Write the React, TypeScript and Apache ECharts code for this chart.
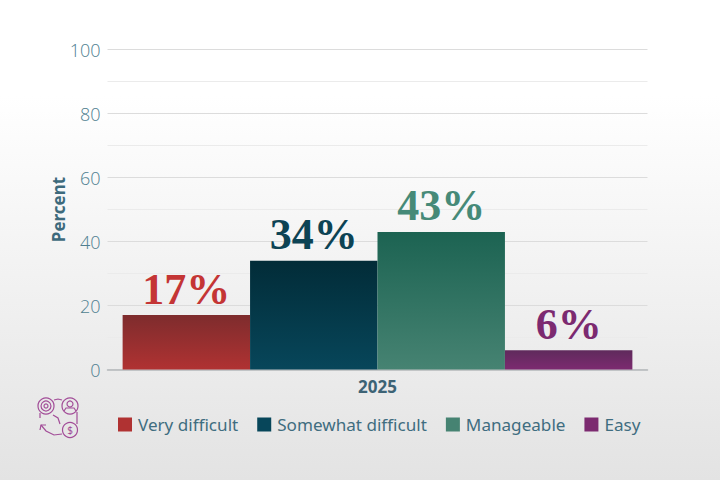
import React, { useEffect, useRef } from "react";
import * as echarts from "echarts";

const categories = ["2025"];
const seriesNames = ["Very difficult", "Somewhat difficult", "Manageable", "Easy"];
const seriesValues = [17, 34, 43, 6];
const topColors = ["#7e2c2d", "#022c38", "#1c6352", "#5f2a5c"];
const bottomColors = ["#b03232", "#07465a", "#468372", "#7c2a70"];
const labelColors = ["#c43535", "#0d4354", "#468a78", "#7c2a70"];
const legendColors = ["#b03232", "#07465a", "#468372", "#7c2a70"];

const ICON = "#a24d98";
const ring = (cx: number, cy: number, r: number) => ({
  type: "circle", shape: { cx, cy, r }, style: { fill: "none", stroke: ICON, lineWidth: 1.2 },
});
const line = (points: number[][]) => ({
  type: "polyline", shape: { points }, style: { fill: "none", stroke: ICON, lineWidth: 1.2 },
});

export default function App() {
  const ref = useRef<HTMLDivElement>(null);
  useEffect(() => {
    document.body.style.margin = "0";
    const chart = echarts.init(ref.current!, undefined, { renderer: "svg" });
    chart.setOption({
      animation: false,
      backgroundColor: {
        type: "linear", x: 0, y: 0, x2: 0, y2: 1,
        colorStops: [
          { offset: 0, color: "#ffffff" },
          { offset: 0.2, color: "#ffffff" },
          { offset: 1, color: "#e3e3e3" },
        ],
      },
      grid: { left: 107.5, width: 540, top: 49.5, height: 320 },
      legend: {
        left: 113, top: 411, itemWidth: 14, itemHeight: 14, itemGap: 19,
        textStyle: { fontFamily: "Noto Sans", fontSize: 17.1, color: "#3f6d80", padding: [0, 0, 0, 1] },
        data: seriesNames.map((name, i) => ({
          name, icon: "rect", itemStyle: { color: legendColors[i] },
        })),
      },
      xAxis: {
        type: "category", data: categories,
        axisLine: { lineStyle: { color: "#b4b8ba", width: 1.5 } },
        axisTick: { show: false },
        axisLabel: { fontFamily: "Noto Sans", fontWeight: "bold", fontSize: 17, color: "#3d6375", margin: 8 },
      },
      yAxis: {
        type: "value", min: 0, max: 100, interval: 20,
        name: "Percent", nameLocation: "middle", nameGap: 41, nameMoveOverlap: false,
        nameTextStyle: { fontFamily: "Noto Sans", fontWeight: "bold", fontSize: 17, color: "#3d6a7c" },
        axisLine: { show: false }, axisTick: { show: false },
        axisLabel: { fontFamily: "Open Sans", fontWeight: 300, fontSize: 18, color: "#4f7f90", margin: 7 },
        splitLine: { lineStyle: { color: "#dcdcdc", width: 1 } },
        minorTick: { show: false, splitNumber: 2 },
        minorSplitLine: { show: true, lineStyle: { color: "#ebebeb", width: 1 } },
      },
      series: seriesNames.map((name, i) => ({
        name, type: "bar", barGap: 0, barCategoryGap: "5.6%",
        data: [seriesValues[i]],
        itemStyle: {
          color: {
            type: "linear", x: 0, y: 0, x2: 0, y2: 1,
            colorStops: [
              { offset: 0, color: topColors[i] },
              { offset: 1, color: bottomColors[i] },
            ],
          },
        },
        label: {
          show: true, position: "top", distance: 4, formatter: "{c}%",
          fontFamily: "Liberation Serif", fontWeight: "bold", fontSize: 44, color: labelColors[i],
        },
      })),
      graphic: [
        {
          type: "group", x: 0, y: 0, silent: true,
          children: [
            ring(46, 406, 8), ring(46, 406, 5), ring(46, 406, 2),
            ring(70, 406, 8), ring(70, 404, 3),
            line([[64, 411], [66, 408], [74, 408], [76, 411]]),
            ring(70, 430, 7.5),
            line([[54, 400], [58, 399], [62, 400]]),
            line([[77, 412], [77, 424]]),
            line([[53, 415], [58, 418], [60, 424]]),
            line([[62, 434], [54, 435], [46, 431], [41, 425]]),
            line([[40, 430], [41, 425], [46, 425]]),
            line([[40, 413], [40, 418]]),
            { type: "text", x: 70, y: 430, style: { text: "$", fill: ICON, fontFamily: "Noto Sans", fontSize: 10, align: "center", verticalAlign: "middle" } },
          ],
        },
      ],
    });
    return () => chart.dispose();
  }, []);
  return <div ref={ref} style={{ width: 720, height: 480 }} />;
}
